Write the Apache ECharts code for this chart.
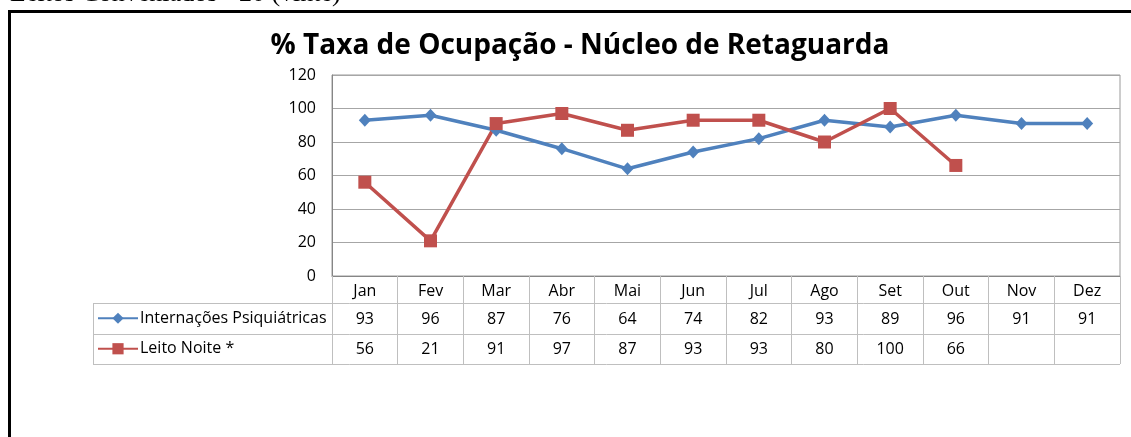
<!DOCTYPE html>
<html><head><meta charset="utf-8">
<script src="https://cdn.jsdelivr.net/npm/echarts@6/dist/echarts.min.js"></script>
<style>html,body{margin:0;padding:0;background:#fff}#c{width:1131px;height:437px}</style>
</head><body><div id="c"></div>
<script>
const categories = ['Jan','Fev','Mar','Abr','Mai','Jun','Jul','Ago','Set','Out','Nov','Dez'];
const internacoes = [93,96,87,76,64,74,82,93,89,96,91,91];
const leitoNoite = [56,21,91,97,87,93,93,80,100,66,null,null];
const seriesNames = ['Internações Psiquiátricas','Leito Noite *'];
const titleText = '% Taxa de Ocupação - Núcleo de Retaguarda';
const captionText = 'Leitos Conveniados - 20 (vinte)';

const GL = 332, GR = 1120, GT = 75, GB = 276;
const ROW_H = 30.5, HEAD_H = 27, TABLE_L = 93;
const FONT = '"Open Sans", "Noto Sans", sans-serif';
const chart = echarts.init(document.getElementById('c'), null, {renderer:'canvas'});
const rowCenter = r => GB + HEAD_H + ROW_H*r + ROW_H/2;
const option = {
  animation:false,
  backgroundColor:'#fff',
  grid:{left:GL, top:GT, width:GR-GL, height:GB-GT, show:true, borderColor:'#9a9a9a', borderWidth:1},
  xAxis:{type:'category', data:categories, boundaryGap:true,
    axisLine:{lineStyle:{color:'#868686', width:1}},
    axisTick:{show:true, length:HEAD_H+2*ROW_H, lineStyle:{color:'#bfbfbf'}},
    axisLabel:{show:false}, splitLine:{show:false}},
  yAxis:{type:'value', min:0, max:120, interval:20,
    axisLine:{show:true, lineStyle:{color:'#868686'}},
    axisTick:{show:false},
    axisLabel:{color:'#000', fontSize:16, fontFamily:FONT, margin:16},
    splitLine:{lineStyle:{color:'#a6a6a6'}}},
  legend:seriesNames.map((n, r) => ({orient:'horizontal', left:92, top:rowCenter(r)-8, padding:[0,5],
    itemWidth:40, itemHeight:14,
    textStyle:{fontSize:16, lineHeight:16, fontFamily:FONT, color:'#000', padding:[0,0,0,-3]},
    data:[n]})),
  series:[
    {name:seriesNames[0], type:'line', data:internacoes, symbol:'diamond', symbolSize:[12,13],
     lineStyle:{color:'#4F81BD', width:3.5}, itemStyle:{color:'#4F81BD'}},
    {name:seriesNames[1], type:'line', data:leitoNoite, symbol:'rect', symbolSize:13,
     lineStyle:{color:'#C0504D', width:3.5}, itemStyle:{color:'#C0504D'}}
  ]
};
chart.setOption(option);

const g = [];
g.push({type:'rect', shape:{x:9.5, y:11.5, width:1200, height:500}, style:{fill:null, stroke:'#000', lineWidth:3}, silent:true});
g.push({type:'text', left:10, top:-19, style:{text:captionText, font:'26px "Liberation Serif", "DejaVu Serif", serif', fill:'#000'}});
g.push({type:'text', style:{text:titleText, x:580, y:46, textAlign:'center', textVerticalAlign:'middle', font:'bold 28px '+FONT, fill:'#000'}});
const yH = GB + HEAD_H, y1 = yH + ROW_H, y2 = y1 + ROW_H;
[yH, y1, y2].forEach(y => g.push({type:'line', shape:{x1:TABLE_L, y1:Math.round(y)+0.5, x2:GR, y2:Math.round(y)+0.5}, style:{stroke:'#bfbfbf', lineWidth:1}}));
g.push({type:'line', shape:{x1:TABLE_L+0.5, y1:Math.round(yH), x2:TABLE_L+0.5, y2:Math.round(y2)+1}, style:{stroke:'#bfbfbf', lineWidth:1}});
categories.forEach((c, i) => {
  const x = chart.convertToPixel({xAxisIndex:0}, i);
  g.push({type:'text', style:{text:c, x:x, y:GB+HEAD_H/2+1.5, textAlign:'center', textVerticalAlign:'middle', font:'16px '+FONT, fill:'#000'}});
  [internacoes, leitoNoite].forEach((arr, r) => {
    const v = arr[i];
    if (v == null) return;
    g.push({type:'text', style:{text:String(v), x:x, y:rowCenter(r)+1, textAlign:'center', textVerticalAlign:'middle', font:'16px '+FONT, fill:'#000'}});
  });
});
chart.setOption({graphic:g});
</script></body></html>
